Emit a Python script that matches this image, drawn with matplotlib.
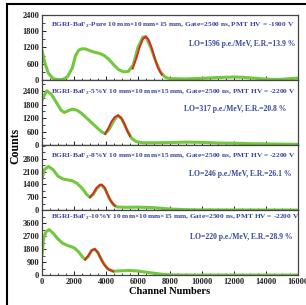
import matplotlib
matplotlib.use('Agg')
import matplotlib.pyplot as plt
from matplotlib.patches import Rectangle
from matplotlib.ticker import MultipleLocator

# Spectra (channel, counts)
ch_pure = [0, 200, 400, 700, 1000, 1300, 1600, 1900, 2100, 2300, 2500, 2700, 3000, 3300, 3600,
           3900, 4200, 4500, 4800, 5100, 5400, 5700, 6000, 6300, 6500, 6800, 7100, 7400, 7700,
           8000, 9000, 10000, 11000, 12000, 12500, 13000, 14000, 14500, 15000, 15500, 16000]
cnt_pure = [1100, 600, 250, 50, 10, 20, 120, 450, 900, 1100, 1150, 1150, 1080, 1020, 980,
            900, 750, 550, 380, 300, 320, 550, 1200, 1580, 1600, 1200, 700, 300, 100,
            50, 40, 60, 90, 110, 100, 80, 30, 20, 25, 50, 70]
fit_ch_pure = [5670, 5900, 6100, 6300, 6480, 6650, 6850, 7050, 7250, 7480]
fit_cnt_pure = [420, 800, 1200, 1500, 1600, 1500, 1200, 800, 450, 200]

ch_5 = [0, 300, 600, 900, 1200, 1400, 1700, 1900, 2200, 2500, 2800, 3100, 3400, 3700, 3950,
        4200, 4500, 4750, 5000, 5300, 5600, 5900, 6300, 7000, 8000, 9000, 10000, 11000,
        12000, 13000, 14000, 15000, 16000]
cnt_5 = [2000, 2420, 2250, 1900, 1550, 1450, 1550, 1600, 1550, 1400, 1200, 1000, 800, 600, 500,
         700, 1100, 1320, 1150, 700, 300, 150, 100, 100, 110, 130, 120, 90,
         80, 60, 50, 40, 30]
fit_ch_5 = [3950, 4150, 4350, 4550, 4750, 4950, 5150, 5350, 5500]
fit_cnt_5 = [500, 750, 1050, 1250, 1320, 1220, 950, 600, 400]

ch_8 = [0, 150, 400, 700, 1000, 1300, 1600, 1900, 2200, 2500, 2800, 3000, 3200, 3450, 3700,
        3950, 4200, 4450, 4700, 5200, 6000, 7000, 8000, 9000, 10000, 12000, 16000]
cnt_8 = [1700, 2200, 2380, 2200, 1850, 1700, 1650, 1600, 1450, 1200, 850, 700, 850, 1200, 1380,
         1150, 650, 300, 170, 150, 160, 130, 60, 20, 10, 5, 0]
fit_ch_8 = [3000, 3200, 3400, 3600, 3750, 3900, 4100, 4300, 4560]
fit_cnt_8 = [700, 900, 1200, 1370, 1380, 1250, 850, 500, 230]

ch_10 = [0, 100, 250, 450, 700, 1000, 1300, 1600, 2000, 2300, 2500, 2700, 2900, 3100, 3300,
         3500, 3800, 4100, 4450, 5000, 5500, 6000, 6500, 7000, 7500, 8000, 9000, 16000]
cnt_10 = [1300, 2500, 3000, 3150, 2900, 2500, 2200, 2050, 1900, 1600, 1300, 1080, 1300, 1700, 1800,
          1550, 900, 450, 270, 300, 320, 280, 200, 130, 60, 20, 5, 0]
fit_ch_10 = [2700, 2900, 3100, 3300, 3500, 3700, 3900, 4150, 4460]
fit_cnt_10 = [1080, 1350, 1700, 1810, 1550, 1100, 700, 400, 250]

titles = ['BGRI-BaF$_\\mathbf{2}$-Pure 10 mm\u00d710 mm\u00d715 mm, Gate=2500 ns, PMT HV = -1900 V',
          'BGRI-BaF$_\\mathbf{2}$-5%Y 10 mm\u00d710 mm\u00d715 mm, Gate=2500 ns, PMT HV = -2200 V',
          'BGRI-BaF$_\\mathbf{2}$-8%Y 10 mm\u00d710 mm\u00d715 mm, Gate=2500 ns, PMT HV = -2200 V',
          'BGRI-BaF$_\\mathbf{2}$-10%Y 10 mm\u00d710 mm\u00d715 mm, Gate=2500 ns, PMT HV = -2200 V']
lo_texts = ['LO=1596 p.e./MeV, E.R.=13.9 %',
            'LO=317 p.e./MeV, E.R.=20.8 %',
            'LO=246 p.e./MeV, E.R.=26.1 %',
            'LO=220 p.e./MeV, E.R.=28.9 %']
y_max = [2400, 2900, 3550, 4500]
y_step = [600, 600, 700, 900]
y_top_tick = [2400, 2400, 2800, 3600]

spectra = [(ch_pure, cnt_pure, fit_ch_pure, fit_cnt_pure),
           (ch_5, cnt_5, fit_ch_5, fit_cnt_5),
           (ch_8, cnt_8, fit_ch_8, fit_cnt_8),
           (ch_10, cnt_10, fit_ch_10, fit_cnt_10)]

title_y = [0.84, 0.81, 0.82, 0.88]
lo_y = [0.56, 0.55, 0.56, 0.58]
lo_x = [0.99, 0.955, 0.975, 0.98]

plt.rcParams['font.family'] = ['Liberation Serif', 'DejaVu Serif']
plt.rcParams['font.weight'] = 'bold'
plt.rcParams['mathtext.fontset'] = 'custom'
plt.rcParams['mathtext.rm'] = 'Liberation Serif:bold'
plt.rcParams['mathtext.bf'] = 'Liberation Serif:bold'

text_color = '#34469c'
green = '#72c83c'
red = '#e02424'

fig, axes = plt.subplots(4, 1, figsize=(3.06, 3.05), dpi=100, sharex=True)
fig.subplots_adjust(left=0.137, right=0.974, top=0.951, bottom=0.098, hspace=0)

for i, ax in enumerate(axes):
    ch, cnt, fch, fcnt = spectra[i]
    ax.plot(ch, cnt, color=green, lw=2.2, solid_capstyle='round', solid_joinstyle='round')
    ax.plot(fch, fcnt, color=red, lw=1.4)
    ax.set_xlim(0, 16000)
    ax.set_ylim(0, y_max[i])
    ax.set_yticks(range(0, y_top_tick[i] + 1, y_step[i]))
    ax.yaxis.set_minor_locator(MultipleLocator(y_step[i] / 2))
    ax.xaxis.set_major_locator(MultipleLocator(2000))
    ax.xaxis.set_minor_locator(MultipleLocator(500))
    ax.tick_params(which='both', direction='in', labelsize=6, colors='#222222', pad=2)
    ax.tick_params(which='major', length=3, width=0.7)
    ax.tick_params(which='minor', length=1.8, width=0.6)
    ax.tick_params(axis='x', top=False)
    for s in ax.spines.values():
        s.set_color('#444444')
        s.set_linewidth(0.9)
    ax.text(0.035, title_y[i], titles[i], transform=ax.transAxes, fontsize=5.3,
            color=text_color, ha='left', va='center', fontweight='bold')
    ax.text(lo_x[i], lo_y[i], lo_texts[i], transform=ax.transAxes, fontsize=5.5,
            color=text_color, ha='right', va='center', fontweight='bold')

axes[-1].set_xlabel('Channel Numbers', fontsize=7.5, fontweight='bold', labelpad=1)
fig.text(0.05, 0.52, 'Counts', rotation=90, fontsize=8.5, fontweight='bold',
         ha='center', va='center')

# outer frame of the original figure (cropped on the right and bottom)
fig.add_artist(Rectangle((7 / 306, -0.1), 1.2, 1 - 4 / 305 + 0.1, transform=fig.transFigure,
                         fill=False, edgecolor='black', lw=1.5))

fig.savefig('out.png', dpi=100)
